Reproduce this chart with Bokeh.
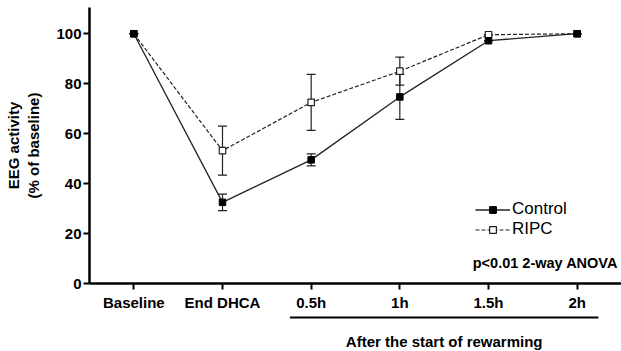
from bokeh.plotting import figure
from bokeh.layouts import column
from bokeh.models import (ColumnDataSource, Whisker, TeeHead, FixedTicker, Legend, LegendItem,
                          Label, Range1d)
from bokeh.embed import file_html
from bokeh.resources import INLINE

categories = ["Baseline", "End DHCA", "0.5h", "1h", "1.5h", "2h"]
control = [100, 32.5, 49.5, 74.7, 97.2, 100]
control_err = [0, 3.3, 2.4, 9.0, 0, 0]
ripc = [100, 53.2, 72.5, 85.0, 99.6, 100]
ripc_err = [0, 9.8, 11.2, 5.6, 0, 0]
y_ticks = [0, 20, 40, 60, 80, 100]
group_label = "After the start of rewarming"
group_span = [1.76, 5.24]

x = list(range(len(categories)))
FONT = "Liberation Sans"
xr = Range1d(-0.5, 5.5)

p = figure(width=621, height=313, output_backend="svg", toolbar_location=None,
           x_range=xr, y_range=Range1d(0, 110.5),
           min_border_left=89, min_border_right=0, min_border_top=7, min_border_bottom=30)
p.outline_line_color = None
p.grid.grid_line_color = None

src_c = ColumnDataSource(dict(x=x, y=control, lo=[v - e for v, e in zip(control, control_err)],
                              hi=[v + e for v, e in zip(control, control_err)]))
src_r = ColumnDataSource(dict(x=x, y=ripc, lo=[v - e for v, e in zip(ripc, ripc_err)],
                              hi=[v + e for v, e in zip(ripc, ripc_err)]))

for src in (src_r, src_c):
    w = Whisker(source=src, base="x", lower="lo", upper="hi", line_color="#222222", line_width=1.2,
                upper_head=TeeHead(size=9, line_color="#222222", line_width=1.2),
                lower_head=TeeHead(size=9, line_color="#222222", line_width=1.2))
    p.add_layout(w)

lr = p.line("x", "y", source=src_r, line_color="#222222", line_width=1.2, line_dash="4 2")
sr = p.scatter("x", "y", source=src_r, marker="square", size=6.5, fill_color="white",
               line_color="#222222", line_width=1.2)
lc = p.line("x", "y", source=src_c, line_color="#222222", line_width=1.3)
sc = p.scatter("x", "y", source=src_c, marker="square", size=6.5, fill_color="black",
               line_color="black")

legend = Legend(items=[LegendItem(label="Control", renderers=[lc, sc]),
                       LegendItem(label="RIPC", renderers=[lr, sr])],
                location=(386, 44), label_text_font=FONT, label_text_font_size="17px",
                label_text_color="black",
                glyph_width=35, glyph_height=17, spacing=-3, padding=0, margin=0,
                label_standoff=2, border_line_color=None, background_fill_alpha=0)
p.add_layout(legend)

p.add_layout(Label(x=5.46, y=8.4, text="p<0.01 2-way ANOVA", text_align="right", text_baseline="middle",
                   text_font=FONT, text_font_style="bold", text_font_size="14.5px", text_color="black"))

for ax in (p.xaxis[0], p.yaxis[0]):
    ax.axis_line_width = 2.5
    ax.axis_line_color = "black"
    ax.major_tick_line_width = 2
    ax.major_tick_line_color = "black"
    ax.major_tick_out = 6
    ax.major_tick_in = 0
    ax.minor_tick_line_color = None
    ax.major_label_text_font = FONT
    ax.major_label_text_font_style = "bold"
    ax.major_label_text_font_size = "15px"
    ax.major_label_text_color = "black"

p.xaxis.ticker = FixedTicker(ticks=x)
p.xaxis.major_label_overrides = {i: c for i, c in enumerate(categories)}
p.xaxis.major_label_standoff = 4
p.yaxis.ticker = FixedTicker(ticks=y_ticks)
p.yaxis.major_label_standoff = 2
p.yaxis.axis_label = "EEG activity\n(% of baseline)"
p.yaxis.axis_label_text_font = FONT
p.yaxis.axis_label_text_font_style = "bold"
p.yaxis.axis_label_text_font_size = "15px"
p.yaxis.axis_label_text_color = "black"
p.yaxis.axis_label_standoff = 11

# strip below for the group bracket and its label
p2 = figure(width=621, height=38, output_backend="svg", toolbar_location=None,
            x_range=xr, y_range=Range1d(0, 38),
            min_border_left=89, min_border_right=0, min_border_top=0, min_border_bottom=0)
p2.axis.visible = False
p2.grid.grid_line_color = None
p2.outline_line_color = None
p2.segment(x0=[group_span[0]], x1=[group_span[1]], y0=[34], y1=[34], line_color="black", line_width=2)
p2.add_layout(Label(x=sum(group_span) / 2, y=10, text=group_label, text_align="center",
                    text_baseline="middle", text_font=FONT, text_font_style="bold",
                    text_font_size="15px", text_color="black"))

layout = column(p, p2, spacing=0)
open("out.html", "w").write(file_html(layout, INLINE))
